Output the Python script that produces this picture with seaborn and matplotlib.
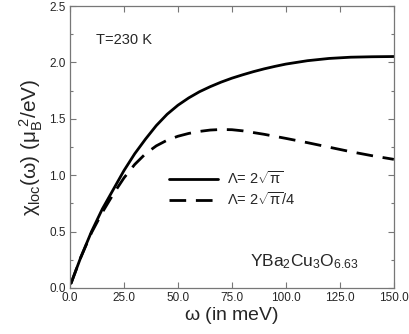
import numpy as np
import pandas as pd
import seaborn as sns
import matplotlib.pyplot as plt
from matplotlib.ticker import MultipleLocator

# omega (meV) and chi_loc values
omega_solid = [0.5, 5, 10, 15, 20, 25, 30, 35, 40, 45, 50, 55, 60, 65, 70, 75, 80, 85, 90,
               95, 100, 110, 120, 130, 140, 150]
chi_solid = [0.04, 0.27, 0.50, 0.70, 0.87, 1.04, 1.19, 1.32, 1.44, 1.54, 1.62, 1.685, 1.74,
             1.785, 1.825, 1.86, 1.89, 1.918, 1.943, 1.965, 1.985, 2.015, 2.035, 2.046, 2.05, 2.052]
omega_dash = [0.5, 5, 10, 15, 20, 25, 30, 35, 40, 45, 50, 55, 60, 65, 70, 75, 80, 90, 100,
              110, 120, 130, 140, 150]
chi_dash = [0.04, 0.27, 0.49, 0.67, 0.83, 0.975, 1.095, 1.19, 1.26, 1.31, 1.345, 1.37, 1.388,
            1.40, 1.405, 1.403, 1.393, 1.362, 1.326, 1.288, 1.248, 1.208, 1.172, 1.14]

labels = [r'$\Lambda$= 2$\sqrt{\pi}$', r'$\Lambda$= 2$\sqrt{\pi}$/4']

sns.set_theme(style='ticks')
plt.rcParams['font.family'] = ['Liberation Sans', 'DejaVu Sans']
plt.rcParams['mathtext.fontset'] = 'custom'
plt.rcParams['mathtext.rm'] = 'Liberation Sans'
plt.rcParams['mathtext.it'] = 'Liberation Sans'
plt.rcParams['mathtext.default'] = 'regular'

solid = pd.DataFrame({'omega': omega_solid, 'chi': chi_solid})
dash = pd.DataFrame({'omega': omega_dash, 'chi': chi_dash})

fig = plt.figure(figsize=(4.09, 3.34), dpi=100)
ax = fig.add_axes([0.171, 0.138, 0.792, 0.844])

sns.lineplot(x='omega', y='chi', data=solid, ax=ax, color='black', lw=2.0, label=labels[0])
sns.lineplot(x='omega', y='chi', data=dash, ax=ax, color='black', lw=2.0, label=labels[1])
ax.lines[1].set_dashes([6, 3.5])

ax.set(xlim=(0, 150), ylim=(0, 2.5))
ax.xaxis.set_major_locator(MultipleLocator(25))
ax.yaxis.set_major_locator(MultipleLocator(0.5))
ax.yaxis.set_minor_locator(MultipleLocator(0.25))
ax.xaxis.set_major_formatter(plt.FuncFormatter(lambda v, p: f'{v:.1f}'))
ax.yaxis.set_major_formatter(plt.FuncFormatter(lambda v, p: f'{v:.1f}'))
ax.tick_params(which='both', direction='in', top=True, right=True, labelsize=8.5,
               color='#777777', pad=3)
ax.tick_params(which='major', length=4, width=0.8)
ax.tick_params(which='minor', length=2.5, width=0.8)
for s in ax.spines.values():
    s.set_color('#777777')
    s.set_linewidth(0.9)

ax.set_xlabel(r'$\omega$ (in meV)', fontsize=14, labelpad=1)
ax.set_ylabel(r'$\chi_{loc}(\omega)$ ($\mu_{B}^{\ 2}$/eV)', fontsize=15, labelpad=3)

ax.text(0.08, 0.865, 'T=230 K', transform=ax.transAxes, fontsize=10.5)
ax.text(0.555, 0.075, r'YBa$_2$Cu$_3$O$_{6.63}$', transform=ax.transAxes, fontsize=12.5)

leg = ax.legend(loc='center', bbox_to_anchor=(0.5, 0.35), frameon=False, fontsize=10.5,
                handlelength=3.4, handletextpad=0.6, labelspacing=0.3)

fig.savefig('out.png', dpi=100)
